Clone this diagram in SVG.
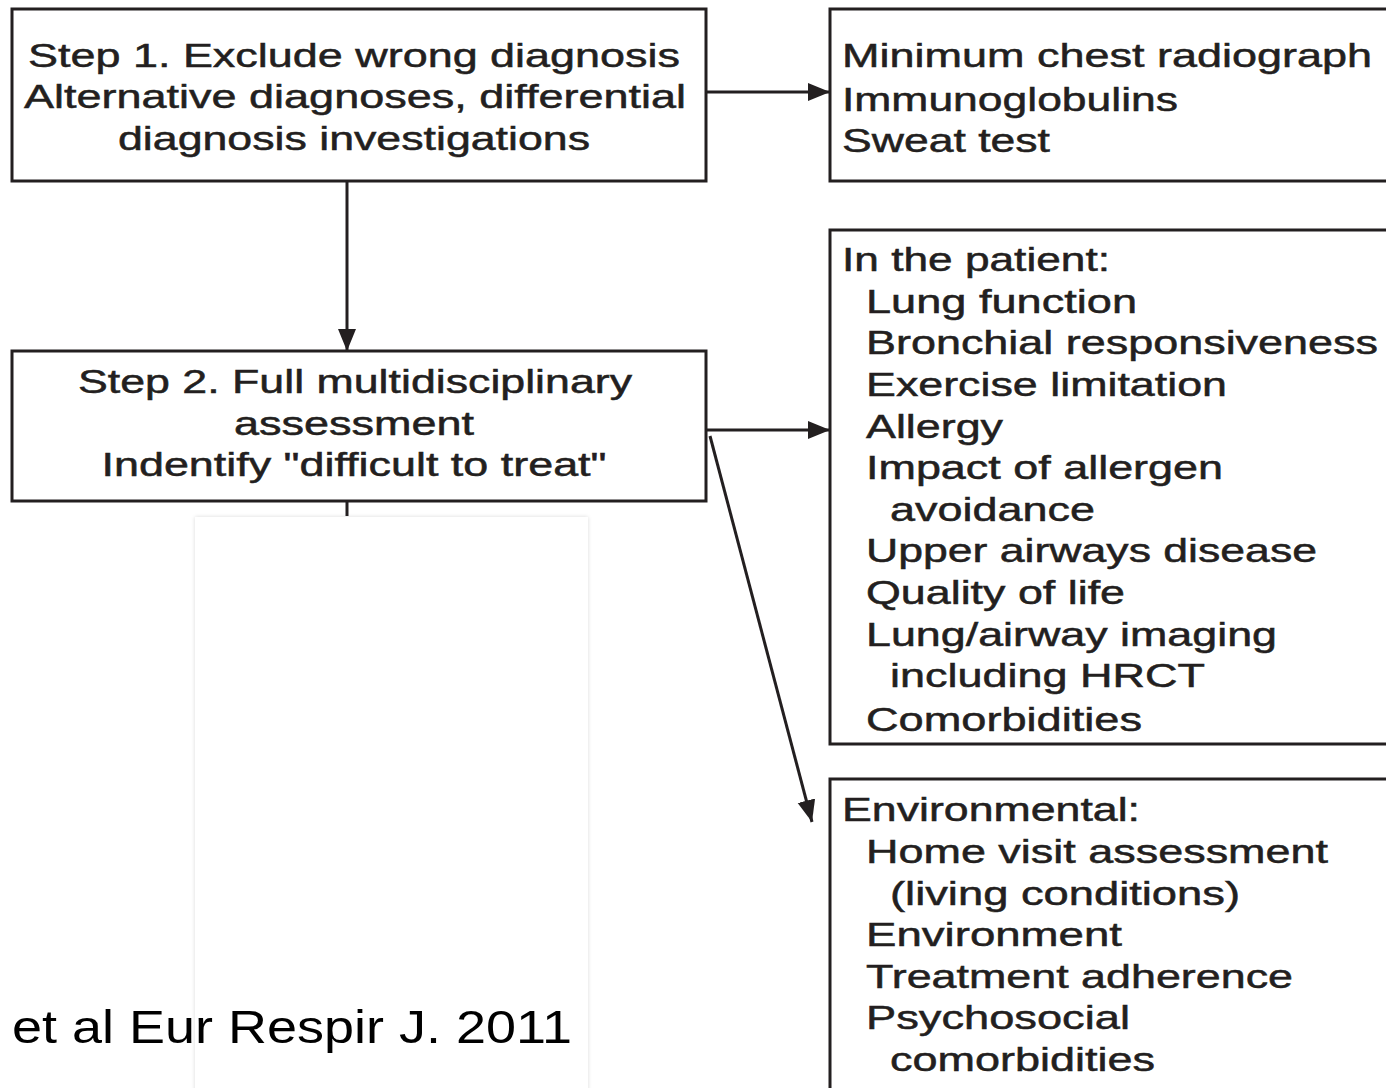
<svg xmlns="http://www.w3.org/2000/svg" width="1386" height="1088" viewBox="0 0 1386 1088">
<style>
.box{fill:#fff;stroke:#231f20;stroke-width:3}
.t{font-family:"Liberation Sans",Arial,sans-serif;font-size:33px;fill:#231f20;stroke:#231f20;stroke-width:0.5}
.c{text-anchor:middle}
.ln{stroke:#231f20;stroke-width:3;fill:none}
.cite{font-family:"Liberation Sans",Arial,sans-serif;font-size:46px;fill:#000}
</style>
<defs>
<marker id="ah" markerUnits="userSpaceOnUse" markerWidth="24" markerHeight="22" refX="22" refY="11" orient="auto">
<path d="M0,2 L22,11 L0,20 Z" fill="#231f20"/>
</marker>
<filter id="sh" x="-5%" y="-5%" width="110%" height="110%">
<feGaussianBlur in="SourceAlpha" stdDeviation="2"/>
<feComponentTransfer><feFuncA type="linear" slope="0.15"/></feComponentTransfer>
<feMerge><feMergeNode/><feMergeNode in="SourceGraphic"/></feMerge>
</filter>
</defs>
<rect width="1386" height="1088" fill="#fff"/>

<g id="panel">
<rect x="195" y="517" width="393" height="600" fill="#fff" filter="url(#sh)"/>
</g>

<g id="connectors">
<line class="ln" x1="706" y1="92" x2="830" y2="92" marker-end="url(#ah)"/>
<line class="ln" x1="347" y1="181" x2="347" y2="351" marker-end="url(#ah)"/>
<line class="ln" x1="706" y1="430" x2="830" y2="430" marker-end="url(#ah)"/>
<line class="ln" x1="710" y1="436" x2="812" y2="822" marker-end="url(#ah)" stroke-width="2.5"/>
<line class="ln" x1="347" y1="501" x2="347" y2="516"/>
</g>

<g id="step1">
<rect class="box" x="12" y="9" width="694" height="172"/>
<text class="t c" x="354" y="67" textLength="652" lengthAdjust="spacingAndGlyphs">Step 1. Exclude wrong diagnosis</text>
<text class="t c" x="355" y="108" textLength="662" lengthAdjust="spacingAndGlyphs">Alternative diagnoses, differential</text>
<text class="t c" x="354" y="150" textLength="472" lengthAdjust="spacingAndGlyphs">diagnosis investigations</text>
</g>

<g id="tests">
<rect class="box" x="830" y="9" width="600" height="172"/>
<text class="t" x="842" y="67" textLength="530" lengthAdjust="spacingAndGlyphs">Minimum chest radiograph</text>
<text class="t" x="842" y="111" textLength="336" lengthAdjust="spacingAndGlyphs">Immunoglobulins</text>
<text class="t" x="842" y="152" textLength="208" lengthAdjust="spacingAndGlyphs">Sweat test</text>
</g>

<g id="step2">
<rect class="box" x="12" y="351" width="694" height="150"/>
<text class="t c" x="355" y="393" textLength="554" lengthAdjust="spacingAndGlyphs">Step 2. Full multidisciplinary</text>
<text class="t c" x="354" y="435" textLength="240" lengthAdjust="spacingAndGlyphs">assessment</text>
<text class="t c" x="354" y="476" textLength="505" lengthAdjust="spacingAndGlyphs">Indentify "difficult to treat"</text>
</g>

<g id="patient">
<rect class="box" x="830" y="230" width="600" height="514"/>
<text class="t" x="842" y="271" textLength="268" lengthAdjust="spacingAndGlyphs">In the patient:</text>
<text class="t" x="866" y="313" textLength="271" lengthAdjust="spacingAndGlyphs">Lung function</text>
<text class="t" x="866" y="354" textLength="512" lengthAdjust="spacingAndGlyphs">Bronchial responsiveness</text>
<text class="t" x="866" y="396" textLength="361" lengthAdjust="spacingAndGlyphs">Exercise limitation</text>
<text class="t" x="866" y="438" textLength="137" lengthAdjust="spacingAndGlyphs">Allergy</text>
<text class="t" x="866" y="479" textLength="357" lengthAdjust="spacingAndGlyphs">Impact of allergen</text>
<text class="t" x="890" y="521" textLength="205" lengthAdjust="spacingAndGlyphs">avoidance</text>
<text class="t" x="866" y="562" textLength="451" lengthAdjust="spacingAndGlyphs">Upper airways disease</text>
<text class="t" x="866" y="604" textLength="259" lengthAdjust="spacingAndGlyphs">Quality of life</text>
<text class="t" x="866" y="646" textLength="411" lengthAdjust="spacingAndGlyphs">Lung/airway imaging</text>
<text class="t" x="890" y="687" textLength="315" lengthAdjust="spacingAndGlyphs">including HRCT</text>
<text class="t" x="866" y="731" textLength="276" lengthAdjust="spacingAndGlyphs">Comorbidities</text>
</g>

<g id="environmental">
<rect class="box" x="830" y="779" width="600" height="340"/>
<text class="t" x="842" y="821" textLength="298" lengthAdjust="spacingAndGlyphs">Environmental:</text>
<text class="t" x="866" y="863" textLength="462" lengthAdjust="spacingAndGlyphs">Home visit assessment</text>
<text class="t" x="890" y="905" textLength="350" lengthAdjust="spacingAndGlyphs">(living conditions)</text>
<text class="t" x="866" y="946" textLength="256" lengthAdjust="spacingAndGlyphs">Environment</text>
<text class="t" x="866" y="988" textLength="427" lengthAdjust="spacingAndGlyphs">Treatment adherence</text>
<text class="t" x="866" y="1029" textLength="264" lengthAdjust="spacingAndGlyphs">Psychosocial</text>
<text class="t" x="890" y="1071" textLength="265" lengthAdjust="spacingAndGlyphs">comorbidities</text>
</g>

<g id="citation">
<text class="cite" x="12" y="1043" textLength="560" lengthAdjust="spacingAndGlyphs">et al Eur Respir J. 2011</text>
</g>
</svg>
